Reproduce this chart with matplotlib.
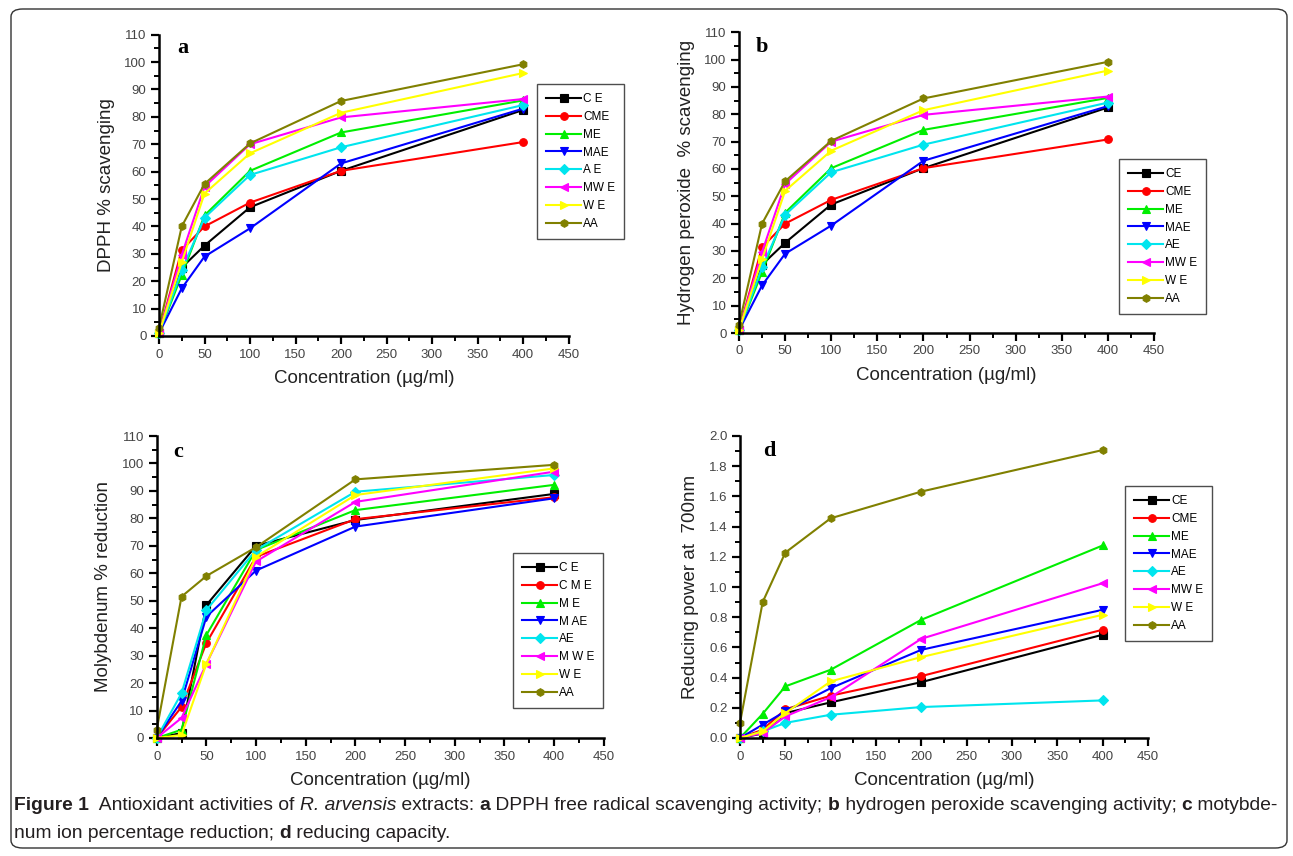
import numpy as np
import matplotlib
matplotlib.use("Agg")
import matplotlib.pyplot as plt
from matplotlib.patches import FancyBboxPatch
from matplotlib.ticker import MultipleLocator

plt.rcParams['font.family'] = ['Liberation Sans', 'DejaVu Sans']

# concentrations (ug/ml)
conc = [0, 25, 50, 100, 200, 400]

names = ["CE", "CME", "ME", "MAE", "AE", "MWE", "WE", "AA"]
colors = ["#000000", "#ff0000", "#00ee00", "#0000ff", "#00e5ee", "#ff00ff", "#ffff00", "#808000"]
markers = ["s", "o", "^", "v", "D", "<", ">", "h"]

# a / b : DPPH and hydrogen peroxide scavenging (%)
dpph_CE = [1, 25, 33, 47, 60.3, 82.5]
dpph_CME = [1, 31.4, 40, 48.7, 60.3, 70.8]
dpph_ME = [1, 22.3, 44, 60.3, 74.3, 86]
dpph_MAE = [1, 17.4, 29, 39.3, 63, 83]
dpph_AE = [1, 24, 43.2, 58.8, 68.9, 84.3]
dpph_MWE = [1, 29.6, 54.5, 70, 79.8, 86.5]
dpph_WE = [1, 27, 52, 66.7, 81.5, 96]
dpph_AA = [3, 40, 55.5, 70.3, 85.8, 99.2]

h2o2_CE = [1, 25, 33, 47, 60.3, 82.5]
h2o2_CME = [1, 31.4, 40, 48.7, 60.3, 70.8]
h2o2_ME = [1, 22.3, 44, 60.3, 74.3, 86]
h2o2_MAE = [1, 17.4, 29, 39.3, 63, 83]
h2o2_AE = [1, 24, 43.2, 58.8, 68.9, 84.3]
h2o2_MWE = [1, 29.6, 54.5, 70, 79.8, 86.5]
h2o2_WE = [1, 27, 52, 66.7, 81.5, 96]
h2o2_AA = [3, 40, 55.5, 70.3, 85.8, 99.2]

# c : molybdenum % reduction
moly_CE = [0, 1.8, 48.4, 70, 79.4, 88.9]
moly_CME = [0, 11.3, 34.6, 66, 79.7, 87.7]
moly_ME = [0, 3, 37.5, 68.5, 83, 92.2]
moly_MAE = [0, 13.5, 44.2, 61, 77, 87.3]
moly_AE = [0, 16.3, 46.6, 68.5, 89.7, 95.8]
moly_MWE = [0, 7.3, 27, 64.3, 86, 97]
moly_WE = [0, 1.1, 27, 66, 88.5, 98.2]
moly_AA = [3, 51.5, 59, 69.5, 94.2, 99.5]

# d : reducing power at 700nm
rp_CE = [0, 0.03, 0.165, 0.236, 0.37, 0.684]
rp_CME = [0, 0.055, 0.19, 0.28, 0.41, 0.717]
rp_ME = [0, 0.16, 0.342, 0.452, 0.783, 1.275]
rp_MAE = [0, 0.088, 0.176, 0.33, 0.584, 0.849]
rp_AE = [0, 0.044, 0.1, 0.154, 0.205, 0.249]
rp_MWE = [0, 0.033, 0.143, 0.27, 0.657, 1.025]
rp_WE = [0, 0.044, 0.165, 0.375, 0.536, 0.816]
rp_AA = [0.1, 0.90, 1.228, 1.455, 1.632, 1.907]

W, H = 1293, 856
fig = plt.figure(figsize=(W / 100, H / 100), dpi=100)

# outer rounded frame
frame = FancyBboxPatch((11 / W, 1 - 848 / H), 1276 / W, 839 / H,
                       boxstyle="round,pad=0,rounding_size=0.009",
                       transform=fig.transFigure, fill=False,
                       edgecolor="#333333", linewidth=1.0)
fig.patches.append(frame)


def px_axes(left, top, right, bottom):
    return fig.add_axes([left / W, 1 - bottom / H, (right - left) / W, (bottom - top) / H])


panels = [
    dict(box=(159, 34.7, 568.5, 336), letter="a", lpos=(183, 48), ylabel="DPPH % scavenging",
         data=[dpph_CE, dpph_CME, dpph_ME, dpph_MAE, dpph_AE, dpph_MWE, dpph_WE, dpph_AA],
         ymax=110, ymaj=10, ymin=5, fmt="%d",
         labels=["C E", "CME", "ME", "MAE", "A E", "MW E", "W E", "AA"], leg=(537, 84)),
    dict(box=(739, 32.3, 1154, 333), letter="b", lpos=(762, 47), ylabel="Hydrogen peroxide  % scavenging",
         data=[h2o2_CE, h2o2_CME, h2o2_ME, h2o2_MAE, h2o2_AE, h2o2_MWE, h2o2_WE, h2o2_AA],
         ymax=110, ymaj=10, ymin=5, fmt="%d",
         labels=["CE", "CME", "ME", "MAE", "AE", "MW E", "W E", "AA"], leg=(1119, 159)),
    dict(box=(156.7, 436, 603.7, 738), letter="c", lpos=(178, 452), ylabel="Molybdenum % reduction",
         data=[moly_CE, moly_CME, moly_ME, moly_MAE, moly_AE, moly_MWE, moly_WE, moly_AA],
         ymax=110, ymaj=10, ymin=5, fmt="%d",
         labels=["C E", "C M E", "M E", "M AE", "AE", "M W E", "W E", "AA"], leg=(513, 553)),
    dict(box=(740, 436, 1148, 738), letter="d", lpos=(769, 451), ylabel="Reducing power at  700nm",
         data=[rp_CE, rp_CME, rp_ME, rp_MAE, rp_AE, rp_MWE, rp_WE, rp_AA],
         ymax=2.0, ymaj=0.2, ymin=0.1, fmt="%.1f",
         labels=["CE", "CME", "ME", "MAE", "AE", "MW E", "W E", "AA"], leg=(1125, 486)),
]

for p in panels:
    ax = px_axes(*p["box"])
    for vals, c, m, lab in zip(p["data"], colors, markers, p["labels"]):
        ax.plot(conc, vals, color=c, marker=m, markersize=5.5, linewidth=1.5,
                markeredgewidth=0.8, label=lab, clip_on=False)
    ax.set_xlim(0, 450)
    ax.set_ylim(0, p["ymax"])
    ax.xaxis.set_major_locator(MultipleLocator(50))
    ax.xaxis.set_minor_locator(MultipleLocator(25))
    ax.yaxis.set_major_locator(MultipleLocator(p["ymaj"]))
    ax.yaxis.set_minor_locator(MultipleLocator(p["ymin"]))
    ax.yaxis.set_major_formatter(plt.FormatStrFormatter(p["fmt"]))
    for s in ["top", "right"]:
        ax.spines[s].set_visible(False)
    for s in ["left", "bottom"]:
        ax.spines[s].set_linewidth(1.8)
    ax.tick_params(which="major", direction="out", length=6, width=1.6,
                   labelsize=9.5, labelcolor="#444444", pad=3)
    ax.tick_params(which="minor", direction="out", length=3.5, width=1.4)
    ax.set_xlabel("Concentration (µg/ml)", fontsize=13.5, color="#222222", labelpad=7)
    ax.set_ylabel(p["ylabel"], fontsize=13.5, color="#222222", labelpad=7)
    lx, ly = p["lpos"]
    fig.text(lx / W, 1 - ly / H, p["letter"], fontsize=16, fontweight="bold",
             family="Liberation Serif", va="center", ha="center")
    gx, gy = p["leg"]
    leg = ax.legend(loc="upper left", bbox_to_anchor=(gx / W, 1 - gy / H),
                    bbox_transform=fig.transFigure, fontsize=8.5, frameon=True,
                    fancybox=False, edgecolor="#222222", handlelength=3.0,
                    handletextpad=0.15, labelspacing=0.5, borderpad=0.75,
                    borderaxespad=0, markerscale=1.0)
    leg.get_frame().set_linewidth(1.0)

# caption with mixed styles
cap_font = "Liberation Sans"

line1 = [("Figure 1", "bold", "normal"), ("  Antioxidant activities of ", "normal", "normal"),
         ("R. arvensis", "normal", "italic"), (" extracts: ", "normal", "normal"),
         ("a", "bold", "normal"), (" DPPH free radical scavenging activity; ", "normal", "normal"),
         ("b", "bold", "normal"), (" hydrogen peroxide scavenging activity; ", "normal", "normal"),
         ("c", "bold", "normal"), (" motybde-", "normal", "normal")]
line2 = [("num ion percentage reduction; ", "normal", "normal"), ("d", "bold", "normal"),
         (" reducing capacity.", "normal", "normal")]

renderer = fig.canvas.get_renderer()


def rich_line(parts, x0, y, size):
    x = x0
    for s, wgt, sty in parts:
        t = fig.text(x / W, 1 - y / H, s, fontsize=size, fontweight=wgt, fontstyle=sty,
                     family=cap_font, color="#231f20", va="center", ha="left")
        x += t.get_window_extent(renderer).width
    return x


# fit first line to the frame width
probe = fig.text(0, 0, "".join(s for s, _, _ in line1), fontsize=10, family=cap_font)
wid = probe.get_window_extent(renderer).width
probe.remove()
cap_size = 10 * 1262 / wid
rich_line(line1, 14, 806, cap_size)
rich_line(line2, 14, 834, cap_size)

fig.savefig("out.png", dpi=100)
